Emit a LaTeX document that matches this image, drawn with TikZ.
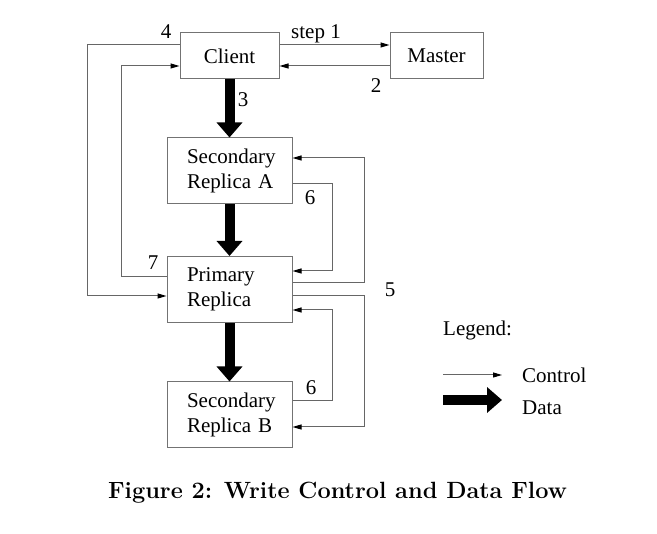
\documentclass[tikz,border=0pt]{standalone}
\usepackage{fontspec}
\newfontfamily\figfont{Liberation Serif}
\usetikzlibrary{positioning,calc,arrows.meta}

\tikzset{
  box/.style={draw=black!55, line width=1pt, minimum width=99pt, minimum height=46pt, inner sep=0pt, align=left},
  repbox/.style={box, minimum width=125pt, minimum height=66pt, text width=85pt},
  ctrl/.style={draw=black!60, line width=1pt, -{Triangle[length=9pt,width=5pt,color=black]}},
  data/.style={black, line width=10pt, -{Triangle[length=15pt,width=25pt]}},
  lbl/.style={inner sep=0pt}
}

\begin{document}
\begin{tikzpicture}[x=1pt, y=-1pt, font=\figfont\fontsize{21}{24.5}\selectfont]
  \useasboundingbox (0,0) rectangle (657,534);

  % boxes
  \node[box] (client) at (229.5,56) {Client};
  \node[box, minimum width=93pt] (master) at (436.5,56) {Master};
  \node[repbox] (secA) at (229.5,171) {Secondary\\Replica~A};
  \node[repbox] (primary) at (229.5,289.5) {Primary\\Replica};
  \node[repbox] (secB) at (229.5,415) {Secondary\\Replica~B};

  % data flow
  \draw[data] (client.south) -- (secA.north);
  \draw[data] (secA.south) -- (primary.north);
  \draw[data] (primary.south) -- (secB.north);

  % control flow
  \draw[ctrl] ([yshift=11pt]client.east) -- ([yshift=11pt]master.west);
  \draw[ctrl] ([yshift=-10pt]master.west) -- ([yshift=-10pt]client.east);
  \draw[ctrl] ([yshift=11pt]client.west) -- ++(-92,0) |- ([yshift=-6.5pt]primary.west);
  \draw[ctrl] ([yshift=12.5pt]primary.west) -- ++(-45,0) |- ([yshift=-10pt]client.west);
  \draw[ctrl] ([yshift=6.5pt]primary.east) -- ++(72,0) |- ([yshift=13pt]secA.east);
  \draw[ctrl] ([yshift=-6.5pt]primary.east) -- ++(72,0) |- ([yshift=-12pt]secB.east);
  \draw[ctrl] ([yshift=-13pt]secA.east) -- ++(40,0) |- ([yshift=18.5pt]primary.east);
  \draw[ctrl] ([yshift=14pt]secB.east) -- ++(40,0) |- ([yshift=-20.5pt]primary.east);

  % step numbers
  \node[lbl] (s1) at (316,34) {step 1};
  \node[lbl] (s2) at (376,86) {2};
  \node[lbl] (s3) at (243,100) {3};
  \node[lbl] (s4) at (166,32) {4};
  \node[lbl] (s5) at (390,290) {5};
  \node[lbl] (s6a) at (310,198) {6};
  \node[lbl] (s6b) at (311,388) {6};
  \node[lbl] (s7) at (153,263) {7};

  % legend
  \node[lbl, anchor=west] (legend) at (443,330) {Legend:};
  \coordinate (ctrlA) at (443,375);
  \coordinate (ctrlB) at (502,375);
  \coordinate (dataA) at (443,400);
  \coordinate (dataB) at (502,400);
  \draw[ctrl] (ctrlA) -- (ctrlB);
  \draw[data] (dataA) -- (dataB);
  \node[lbl, anchor=west] (lctrl) at (522,375) {Control};
  \node[lbl, anchor=west] (ldata) at (522,408) {Data};

  % caption
  \node[lbl] (caption) at (337.5,493) {\rmfamily\fontsize{23.5}{27}\bfseries Figure 2: Write Control and Data Flow};
\end{tikzpicture}
\end{document}
